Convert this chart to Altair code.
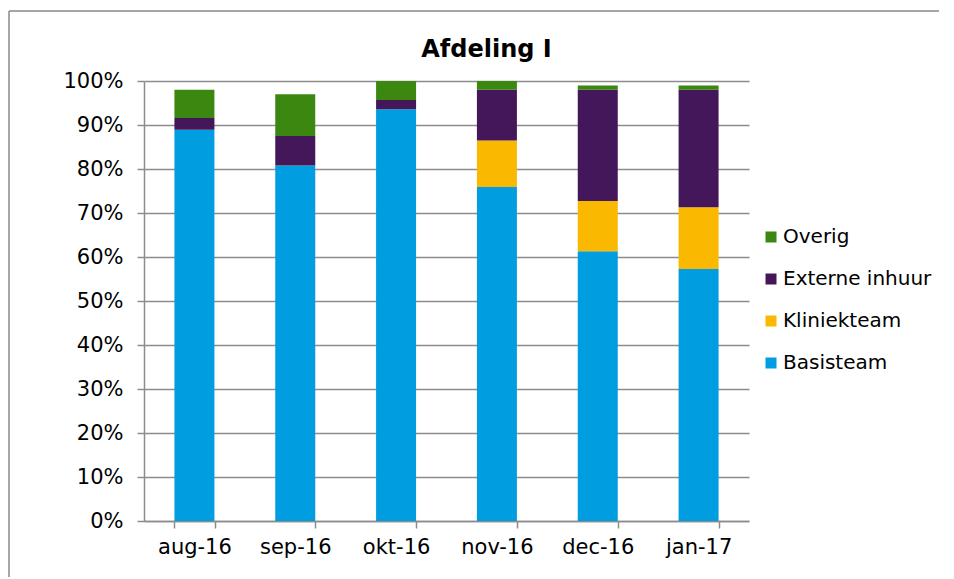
import altair as alt
import pandas as pd

months = ["aug-16", "sep-16", "okt-16", "nov-16", "dec-16", "jan-17"]
series = ["Basisteam", "Kliniekteam", "Externe inhuur", "Overig"]
basisteam = [88.9, 80.8, 93.6, 75.9, 61.3, 57.3]
kliniekteam = [0.0, 0.0, 0.0, 10.6, 11.4, 14.0]
externe_inhuur = [2.7, 6.7, 2.1, 11.5, 25.3, 26.7]
overig = [6.4, 9.5, 4.3, 2.0, 1.0, 1.0]
legend_order = ["Overig", "Externe inhuur", "Kliniekteam", "Basisteam"]
colors = ["#3B8710", "#44165A", "#FAB800", "#009EE0"]

rows = []
for i, m in enumerate(months):
    for k, (name, vals) in enumerate(zip(series, [basisteam, kliniekteam, externe_inhuur, overig])):
        rows.append({"maand": m, "reeks": name, "waarde": vals[i] / 100.0, "volgorde": k})
df = pd.DataFrame(rows)

W, H = 605, 440
FONT = "DejaVu Sans"
GRID = "#8c8c8c"

bars = alt.Chart(df).mark_bar(size=40).encode(
    x=alt.X("maand:N", sort=months, title=None,
            scale=alt.Scale(paddingInner=0.6, paddingOuter=0.3),
            axis=alt.Axis(labelAngle=0, tickBand="extent", tickSize=7, labelPadding=8,
                          grid=False, domainColor=GRID, tickColor=GRID, domainWidth=1.5, tickWidth=1.5)),
    y=alt.Y("waarde:Q", stack="zero", title=None,
            scale=alt.Scale(domain=[0, 1], nice=False),
            axis=alt.Axis(format=".0%", values=[i / 10 for i in range(11)], tickSize=7, labelPadding=14,
                          gridColor=GRID, gridWidth=1.5, domainColor=GRID, tickColor=GRID,
                          domainWidth=1.5, tickWidth=1.5)),
    color=alt.Color("reeks:N", scale=alt.Scale(domain=legend_order, range=colors),
                    legend=alt.Legend(title=None, orient="none", legendX=617, legendY=146,
                                      symbolType="square", symbolSize=121, symbolStrokeWidth=0,
                                      labelFontSize=20, labelFont=FONT, labelColor="#000000",
                                      rowPadding=22, labelOffset=2, padding=0)),
    order=alt.Order("volgorde:Q", sort="ascending"),
)

one = pd.DataFrame({"a": [0]})
frame_top = alt.Chart(one).mark_rule(stroke="#888888", strokeWidth=1.5).encode(
    x=alt.value(-135), x2=alt.value(795), y=alt.value(-70))
frame_left = alt.Chart(one).mark_rule(stroke="#888888", strokeWidth=1.5).encode(
    x=alt.value(-135), y=alt.value(-70), y2=alt.value(520))

chart = alt.layer(frame_top, frame_left, bars).properties(
    width=W, height=H,
    title=alt.TitleParams("Afdeling I", font=FONT, fontSize=24, fontWeight="bold",
                          anchor="middle", frame="group", dx=40, offset=-71,
                          baseline="alphabetic", color="#000000"),
    autosize=alt.AutoSizeParams(type="none"),
    padding={"left": 136, "top": 73, "right": 195, "bottom": 56},
).configure_view(stroke=None).configure_axis(
    labelFont=FONT, labelFontSize=21, labelColor="#000000"
)

chart.save("out.html", embed_options={"renderer": "svg", "actions": False})
